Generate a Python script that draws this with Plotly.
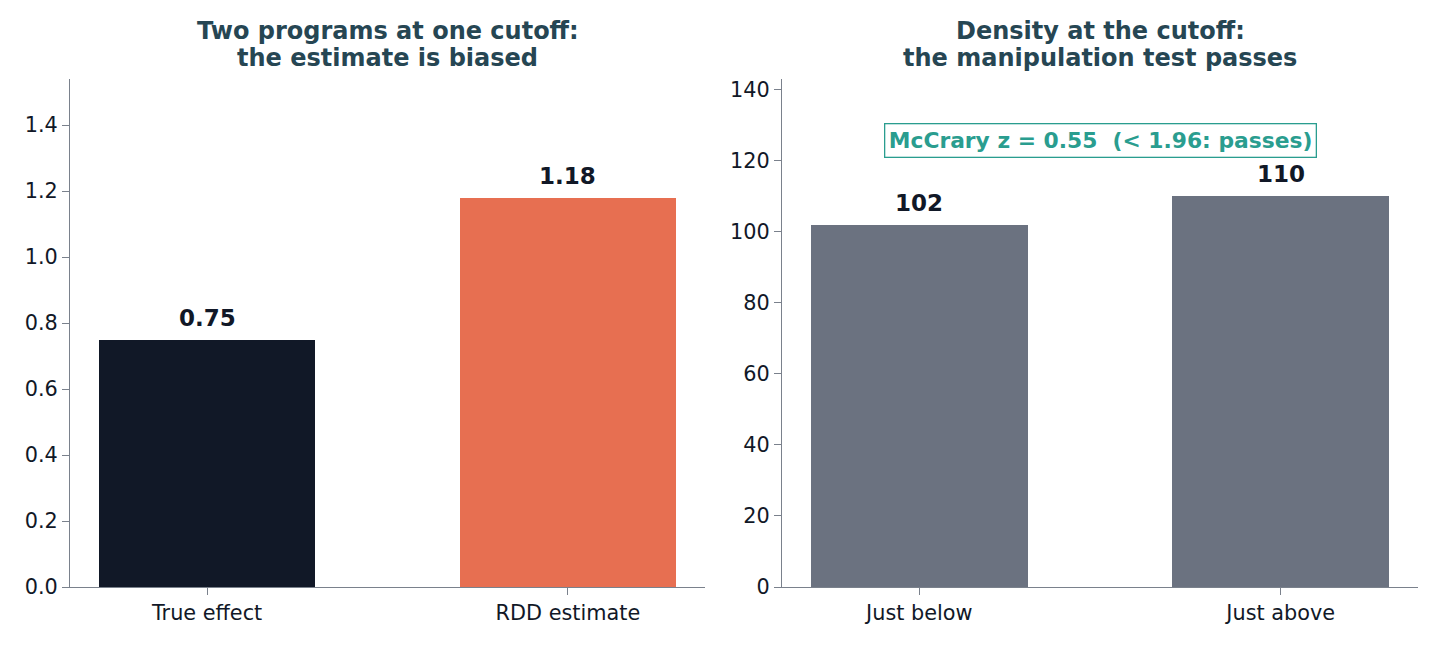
import plotly.graph_objects as go

left_cats = ["True effect", "RDD estimate"]
left_vals = [0.75, 1.18]
left_labels = ["0.75", "1.18"]
left_colors = ["#111827", "#E76F51"]

right_cats = ["Just below", "Just above"]
right_vals = [102, 110]
right_labels = ["102", "110"]
right_colors = ["#6B7280", "#6B7280"]

left_title = ["Two programs at one cutoff:", "the estimate is biased"]
right_title = ["Density at the cutoff:", "the manipulation test passes"]
mccrary_text = "McCrary z = 0.55  (< 1.96: passes)"
mccrary_y = 125.8

FONT = "DejaVu Sans"
AX = "#7a818c"
TXT = "#111827"
H = 645

fig = go.Figure()
fig.add_trace(go.Bar(x=[0, 1], y=left_vals, marker=dict(color=left_colors, line=dict(width=0)),
                     width=0.6, xaxis="x", yaxis="y", showlegend=False, hoverinfo="skip"))
fig.add_trace(go.Bar(x=[0, 1], y=right_vals, marker=dict(color=right_colors, line=dict(width=0)),
                     width=0.6, xaxis="x2", yaxis="y2", showlegend=False, hoverinfo="skip"))

common_x = dict(tickmode="array", tickvals=[0, 1], range=[-0.38, 1.38], showgrid=False, zeroline=False,
                showline=True, linecolor=AX, linewidth=1.2, ticks="outside", ticklen=7, tickcolor=AX,
                automargin=False, tickfont=dict(family=FONT, size=20.8, color=TXT))
common_y = dict(showgrid=False, zeroline=False, showline=True, linecolor=AX, linewidth=1.2,
                ticks="outside", ticklen=7, tickcolor=AX, automargin=False,
                tickfont=dict(family=FONT, size=20.8, color=TXT))

ann = []
for i, (v, t) in enumerate(zip(left_vals, left_labels)):
    ann.append(dict(x=i, y=v, xref="x", yref="y", text=f"<b>{t}</b>", showarrow=False, yanchor="middle",
                    yshift=22, font=dict(family=FONT, size=23, color=TXT)))
for i, (v, t) in enumerate(zip(right_vals, right_labels)):
    ann.append(dict(x=i, y=v, xref="x2", yref="y2", text=f"<b>{t}</b>", showarrow=False, yanchor="middle",
                    yshift=22, font=dict(family=FONT, size=23, color=TXT)))
ann.append(dict(x=0.5, y=mccrary_y, xref="x2", yref="y2", text=f"<b>{mccrary_text}</b>", showarrow=False,
                font=dict(family=FONT, size=21.8, color="#2A9D8F"), bgcolor="white", bordercolor="#2A9D8F",
                borderwidth=1.3, borderpad=3.5))
for cx, lines in [((70 + 705) / 2 / 1440, left_title), ((782 + 1418) / 2 / 1440, right_title)]:
    for py, line in zip([31, 58], lines):
        ann.append(dict(x=cx, y=1 - py / H, xref="paper", yref="paper", text=f"<b>{line}</b>",
                        showarrow=False, xanchor="center", yanchor="middle",
                        font=dict(family=FONT, size=24, color="#264653")))

ydom = [1 - 587 / H, 1 - 79 / H]
fig.update_layout(
    width=1440, height=H, margin=dict(l=0, r=0, t=0, b=0, autoexpand=False),
    plot_bgcolor="white", paper_bgcolor="white", bargap=0,
    xaxis=dict(domain=[70 / 1440, 705 / 1440], ticktext=left_cats, **common_x),
    yaxis=dict(domain=ydom, range=[0, 1.54], tickvals=[0, 0.2, 0.4, 0.6, 0.8, 1.0, 1.2, 1.4],
               ticktext=["0.0", "0.2", "0.4", "0.6", "0.8", "1.0", "1.2", "1.4"], **common_y),
    xaxis2=dict(domain=[782 / 1440, 1418 / 1440], ticktext=right_cats, anchor="y2", **common_x),
    yaxis2=dict(domain=ydom, range=[0, 143], tickvals=[0, 20, 40, 60, 80, 100, 120, 140],
                anchor="x2", **common_y),
    annotations=ann,
)
fig.write_html("out.html")
